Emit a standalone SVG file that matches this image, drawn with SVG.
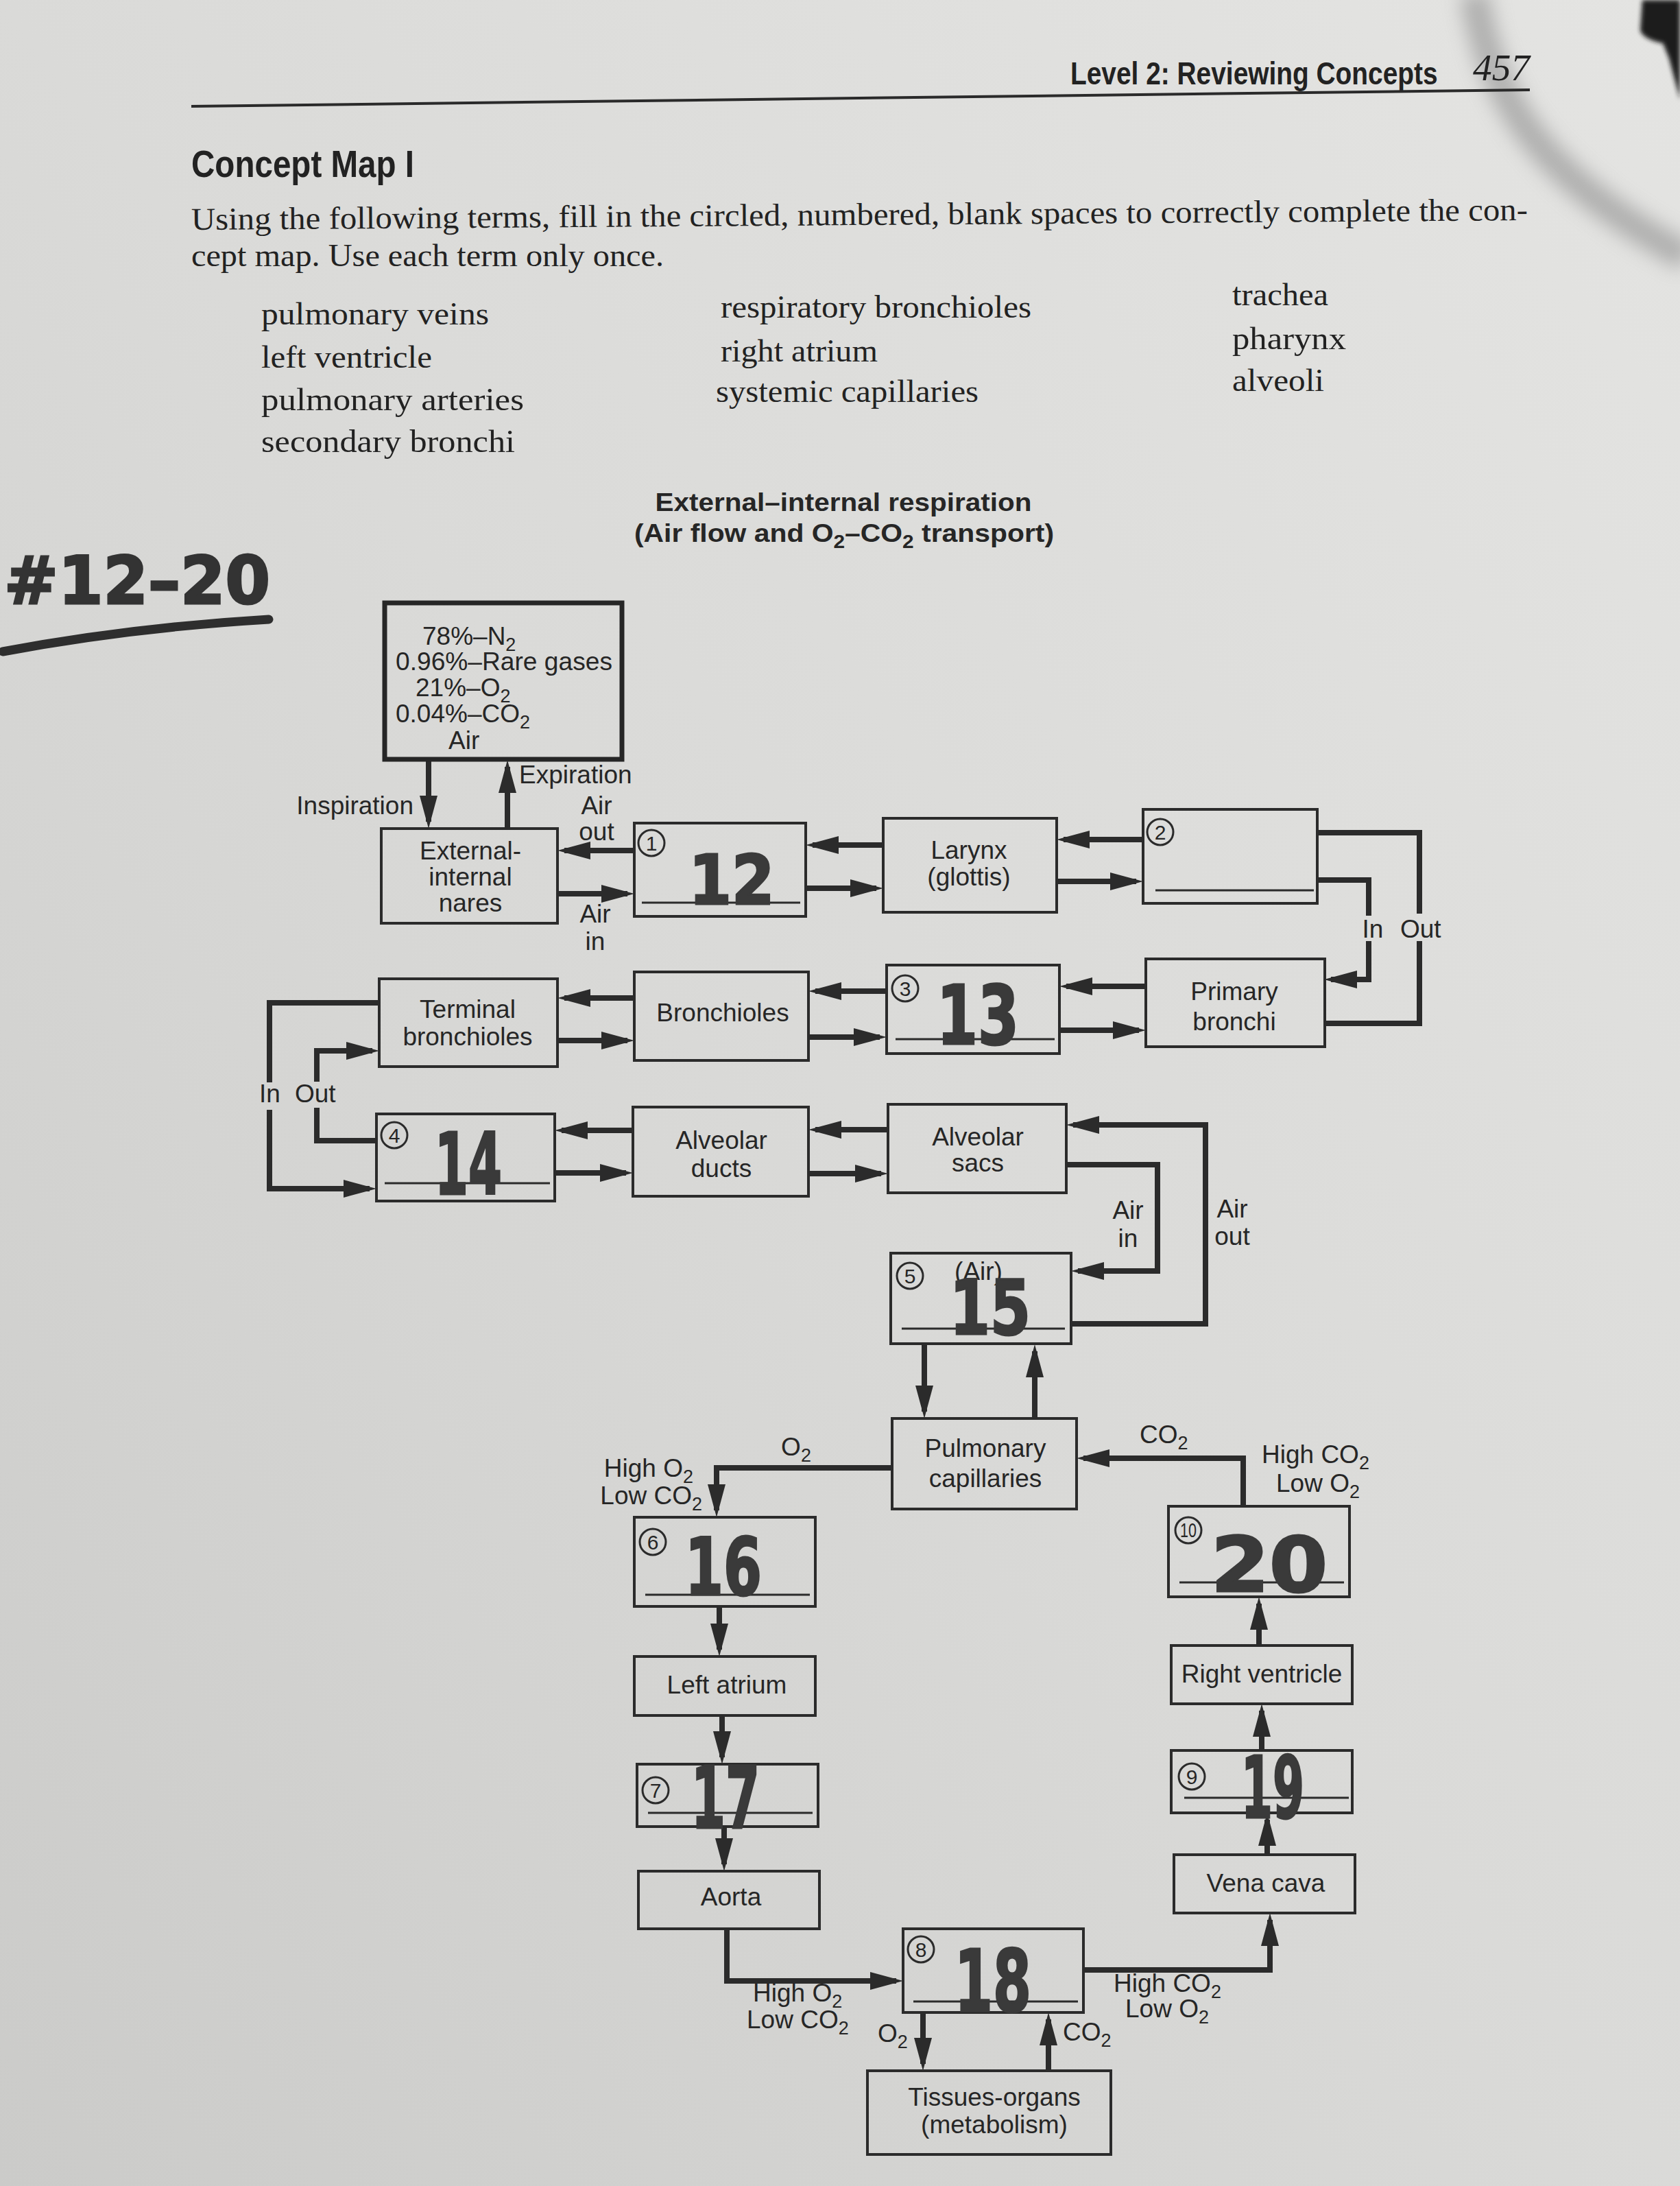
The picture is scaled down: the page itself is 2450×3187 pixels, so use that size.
<svg xmlns="http://www.w3.org/2000/svg" width="2450" height="3187" viewBox="0 0 2450 3187">
<defs>
<linearGradient id="bg" x1="1" y1="0" x2="0" y2="1">
<stop offset="0" stop-color="#e4e4e2"/>
<stop offset="0.5" stop-color="#dadad8"/>
<stop offset="1" stop-color="#cbcbc9"/>
</linearGradient>
<filter id="blur" x="-50%" y="-50%" width="200%" height="200%"><feGaussianBlur stdDeviation="14"/></filter>
<filter id="blur2" x="-20%" y="-20%" width="140%" height="140%"><feGaussianBlur stdDeviation="3"/></filter>
<marker id="ah" viewBox="0 0 48 26" markerWidth="48" markerHeight="26" refX="38" refY="13" orient="auto" markerUnits="userSpaceOnUse">
<path d="M0,0 L48,13 L0,26 Z" fill="#2b2b2b"/>
</marker>
<style>
.box{fill:none;stroke:#2b2b2b;stroke-width:4}
.t{font-family:"Liberation Sans",Arial,sans-serif;font-size:37px;fill:#262626;text-anchor:middle}
.l{font-family:"Liberation Sans",Arial,sans-serif;font-size:37px;fill:#262626}
.le{font-family:"Liberation Sans",Arial,sans-serif;font-size:37px;fill:#262626;text-anchor:end}
.ar{fill:none;stroke:#2b2b2b;stroke-width:8;marker-end:url(#ah)}
.ln{fill:none;stroke:#2b2b2b;stroke-width:8}
.ul{stroke:#2b2b2b;stroke-width:3}
.cn{fill:none;stroke:#2b2b2b;stroke-width:3}
.cd{font-family:"Liberation Sans",Arial,sans-serif;font-size:30px;fill:#262626;text-anchor:middle}
.hw{font-family:"DejaVu Sans",sans-serif;font-weight:bold;fill:#3a3a3a;stroke:#3a3a3a;stroke-width:3;text-anchor:middle}
.serif{font-family:"Liberation Serif","Times New Roman",serif;font-size:46px;fill:#222}
</style>
</defs>

<rect width="2450" height="3187" fill="url(#bg)"/>
<path d="M2150,-10 C2175,150 2250,260 2460,375" fill="none" stroke="#8e8e8e" stroke-width="42" opacity="0.6" filter="url(#blur)"/>
<path d="M2395,0 L2392,45 Q2398,58 2425,63 L2434,85 L2450,145 L2450,0 Z" fill="#1c1c1c" filter="url(#blur2)"/>

<g id="page-header">
<text transform="translate(1561 123) scale(0.845 1)" x="0" y="0" font-family="Liberation Sans,Arial,sans-serif" font-weight="bold" font-size="46" fill="#222">Level 2: Reviewing Concepts</text>
<text x="2148" y="117" font-family="Liberation Serif,serif" font-style="italic" font-size="54" fill="#222" textLength="83" lengthAdjust="spacingAndGlyphs">457</text>
<line x1="279" y1="155" x2="2231" y2="131" stroke="#2a2a2a" stroke-width="4"/>
<text x="279" y="258" font-family="Liberation Sans,Arial,sans-serif" font-weight="bold" font-size="56" fill="#222" textLength="325" lengthAdjust="spacingAndGlyphs">Concept Map I</text>
<text class="serif" x="279" y="335" transform="rotate(-0.41 279 335)" textLength="1949" lengthAdjust="spacingAndGlyphs">Using the following terms, fill in the circled, numbered, blank spaces to correctly complete the con-</text>
<text class="serif" x="279" y="388" textLength="689" lengthAdjust="spacingAndGlyphs">cept map. Use each term only once.</text>
</g>

<g id="terms">
<text class="serif" x="381" y="473" textLength="332" lengthAdjust="spacingAndGlyphs">pulmonary veins</text>
<text class="serif" x="381" y="536" textLength="249" lengthAdjust="spacingAndGlyphs">left ventricle</text>
<text class="serif" x="381" y="598" textLength="383" lengthAdjust="spacingAndGlyphs">pulmonary arteries</text>
<text class="serif" x="381" y="659" textLength="370" lengthAdjust="spacingAndGlyphs">secondary bronchi</text>
<text class="serif" x="1051" y="463" textLength="453" lengthAdjust="spacingAndGlyphs">respiratory bronchioles</text>
<text class="serif" x="1051" y="527" textLength="229" lengthAdjust="spacingAndGlyphs">right atrium</text>
<text class="serif" x="1044" y="586" textLength="383" lengthAdjust="spacingAndGlyphs">systemic capillaries</text>
<text class="serif" x="1797" y="445" textLength="140" lengthAdjust="spacingAndGlyphs">trachea</text>
<text class="serif" x="1797" y="509" textLength="166" lengthAdjust="spacingAndGlyphs">pharynx</text>
<text class="serif" x="1797" y="570" textLength="134" lengthAdjust="spacingAndGlyphs">alveoli</text>
</g>

<g id="handwritten-range">
<text x="6" y="880" font-family="DejaVu Sans,sans-serif" font-weight="bold" font-size="96" fill="#333" stroke="#333" stroke-width="3" textLength="388" lengthAdjust="spacingAndGlyphs">#12–20</text>
<path d="M4,950 Q190,915 392,903" fill="none" stroke="#2e2e2e" stroke-width="13" stroke-linecap="round"/>
</g>

<g id="title">
<text class="t" x="1230" y="745" font-weight="bold" font-size="38" textLength="549" lengthAdjust="spacingAndGlyphs">External–internal respiration</text>
<text class="t" x="1231" y="790" font-weight="bold" font-size="38" textLength="612" lengthAdjust="spacingAndGlyphs">(Air flow and O<tspan dy="9" font-size="27">2</tspan><tspan dy="-9">–CO</tspan><tspan dy="9" font-size="27">2</tspan><tspan dy="-9"> transport)</tspan></text>
</g>

<g id="connectors">
<path class="ar" d="M625,1108 V1198"/>
<path class="ar" d="M740,1208 V1118"/>
<path class="ar" d="M925,1240 H823"/>
<path class="ar" d="M813,1303 H915"/>
<path class="ar" d="M1288,1232 H1185"/>
<path class="ar" d="M1175,1295 H1278"/>
<path class="ar" d="M1667,1224 H1551"/>
<path class="ar" d="M1541,1285 H1657"/>
<path class="ln" d="M1921,1214 H2070 V1332"/>
<path class="ln" d="M2070,1372 V1492 H1931"/>
<path class="ln" d="M1921,1283 H1996 V1335"/>
<path class="ar" d="M1996,1372 V1428 H1941"/>
<path class="ar" d="M1671,1438 H1555"/>
<path class="ar" d="M1545,1502 H1661"/>
<path class="ar" d="M1293,1445 H1189"/>
<path class="ar" d="M1179,1512 H1283"/>
<path class="ar" d="M925,1455 H823"/>
<path class="ar" d="M813,1517 H915"/>
<path class="ln" d="M553,1462 H393 V1578"/>
<path class="ar" d="M393,1618 V1733 H539"/>
<path class="ln" d="M549,1663 H462 V1615"/>
<path class="ar" d="M462,1577 V1532 H543"/>
<path class="ar" d="M1295,1647 H1189"/>
<path class="ar" d="M1179,1711 H1285"/>
<path class="ar" d="M923,1648 H819"/>
<path class="ar" d="M809,1710 H913"/>
<path class="ar" d="M1555,1698 H1688 V1853 H1572"/>
<path class="ar" d="M1562,1930 H1758 V1640 H1565"/>
<path class="ar" d="M1348,1960 V2058"/>
<path class="ar" d="M1509,2068 V1970"/>
<path class="ar" d="M1301,2140 H1045 V2202"/>
<path class="ar" d="M1813,2196 V2126 H1580"/>
<path class="ar" d="M1049,2342 V2405"/>
<path class="ar" d="M1053,2501 V2562"/>
<path class="ar" d="M1056,2663 V2718"/>
<path class="ar" d="M1060,2812 V2888 H1307"/>
<path class="ar" d="M1580,2872 H1852 V2799"/>
<path class="ar" d="M1848,2704 V2653"/>
<path class="ar" d="M1840,2552 V2494"/>
<path class="ar" d="M1836,2399 V2338"/>
<path class="ar" d="M1346,2934 V3009"/>
<path class="ar" d="M1529,3019 V2944"/>
</g>

<g id="connector-labels">
<text class="le" x="603" y="1187">Inspiration</text>
<text class="l" x="757" y="1142">Expiration</text>
<text class="t" x="870" y="1187">Air</text>
<text class="t" x="870" y="1225">out</text>
<text class="t" x="868" y="1345">Air</text>
<text class="t" x="868" y="1385">in</text>
<text class="t" x="2002" y="1367">In</text>
<text class="l" x="2042" y="1367">Out</text>
<text class="l" x="378" y="1607">In</text>
<text class="l" x="430" y="1607">Out</text>
<text class="t" x="1645" y="1777">Air</text>
<text class="t" x="1645" y="1818">in</text>
<text class="t" x="1797" y="1775">Air</text>
<text class="t" x="1797" y="1815">out</text>
<text class="t" x="1161" y="2122">O<tspan dy="9" font-size="27">2</tspan></text>
<text class="le" x="1011" y="2153">High O<tspan dy="9" font-size="27">2</tspan></text>
<text class="le" x="1024" y="2193">Low CO<tspan dy="9" font-size="27">2</tspan></text>
<text class="l" x="1662" y="2104">CO<tspan dy="9" font-size="27">2</tspan></text>
<text class="l" x="1840" y="2133">High CO<tspan dy="9" font-size="27">2</tspan></text>
<text class="l" x="1861" y="2175">Low O<tspan dy="9" font-size="27">2</tspan></text>
<text class="l" x="1098" y="2918">High O<tspan dy="9" font-size="27">2</tspan></text>
<text class="l" x="1089" y="2957">Low CO<tspan dy="9" font-size="27">2</tspan></text>
<text class="l" x="1624" y="2904">High CO<tspan dy="9" font-size="27">2</tspan></text>
<text class="l" x="1641" y="2941">Low O<tspan dy="9" font-size="27">2</tspan></text>
<text class="l" x="1280" y="2977">O<tspan dy="9" font-size="27">2</tspan></text>
<text class="l" x="1550" y="2975">CO<tspan dy="9" font-size="27">2</tspan></text>
</g>

<g id="node-air">
<rect x="561" y="879" width="346" height="228" fill="none" stroke="#262626" stroke-width="7"/>
<text class="l" x="616" y="940">78%–N<tspan dy="9" font-size="27">2</tspan></text>
<text class="l" x="577" y="977" textLength="316" lengthAdjust="spacingAndGlyphs">0.96%–Rare gases</text>
<text class="l" x="606" y="1015">21%–O<tspan dy="9" font-size="27">2</tspan></text>
<text class="l" x="577" y="1053">0.04%–CO<tspan dy="9" font-size="27">2</tspan></text>
<text class="l" x="654" y="1092">Air</text>
</g>

<g id="node-nares">
<rect class="box" x="556" y="1208" width="257" height="138"/>
<text class="t" x="686" y="1253">External-</text>
<text class="t" x="686" y="1291">internal</text>
<text class="t" x="686" y="1329">nares</text>
</g>

<g id="node-1">
<rect class="box" x="925" y="1200" width="250" height="136"/>
<circle class="cn" cx="950" cy="1229" r="19"/><text class="cd" x="950" y="1240">1</text>
<line class="ul" x1="936" y1="1316" x2="1167" y2="1316"/>
<text class="hw" x="1067" y="1318" font-size="100" textLength="125" lengthAdjust="spacingAndGlyphs">12</text>
</g>

<g id="node-larynx">
<rect class="box" x="1288" y="1193" width="253" height="137"/>
<text class="t" x="1413" y="1252">Larynx</text>
<text class="t" x="1413" y="1291">(glottis)</text>
</g>

<g id="node-2">
<rect class="box" x="1667" y="1180" width="254" height="137"/>
<circle class="cn" cx="1692" cy="1213" r="19"/><text class="cd" x="1692" y="1224">2</text>
<line class="ul" x1="1685" y1="1298" x2="1916" y2="1298"/>
</g>

<g id="node-primary-bronchi">
<rect class="box" x="1671" y="1398" width="261" height="128"/>
<text class="t" x="1800" y="1458">Primary</text>
<text class="t" x="1800" y="1502">bronchi</text>
</g>

<g id="node-3">
<rect class="box" x="1293" y="1407" width="252" height="129"/>
<circle class="cn" cx="1320" cy="1441" r="19"/><text class="cd" x="1320" y="1452">3</text>
<line class="ul" x1="1306" y1="1515" x2="1538" y2="1515"/>
<text class="hw" x="1426" y="1522" font-size="120" textLength="120" lengthAdjust="spacingAndGlyphs">13</text>
</g>

<g id="node-bronchioles">
<rect class="box" x="925" y="1417" width="254" height="129"/>
<text class="t" x="1054" y="1489">Bronchioles</text>
</g>

<g id="node-terminal-bronchioles">
<rect class="box" x="553" y="1427" width="260" height="128"/>
<text class="t" x="682" y="1484">Terminal</text>
<text class="t" x="682" y="1524">bronchioles</text>
</g>

<g id="node-4">
<rect class="box" x="549" y="1624" width="260" height="127"/>
<circle class="cn" cx="575" cy="1655" r="19"/><text class="cd" x="575" y="1666">4</text>
<line class="ul" x1="561" y1="1725" x2="802" y2="1725"/>
<text class="hw" x="683" y="1741" font-size="125" textLength="98" lengthAdjust="spacingAndGlyphs">14</text>
</g>

<g id="node-alveolar-ducts">
<rect class="box" x="923" y="1614" width="256" height="130"/>
<text class="t" x="1052" y="1675">Alveolar</text>
<text class="t" x="1052" y="1716">ducts</text>
</g>

<g id="node-alveolar-sacs">
<rect class="box" x="1295" y="1610" width="260" height="129"/>
<text class="t" x="1426" y="1670">Alveolar</text>
<text class="t" x="1426" y="1708">sacs</text>
</g>

<g id="node-5">
<rect class="box" x="1299" y="1827" width="263" height="132"/>
<circle class="cn" cx="1327" cy="1860" r="19"/><text class="cd" x="1327" y="1871">5</text>
<text class="t" x="1427" y="1866" font-size="34">(Air)</text>
<line class="ul" x1="1315" y1="1937" x2="1553" y2="1937"/>
<text class="hw" x="1444" y="1945" font-size="110" textLength="118" lengthAdjust="spacingAndGlyphs">15</text>
</g>

<g id="node-pulmonary-capillaries">
<rect class="box" x="1301" y="2068" width="269" height="132"/>
<text class="t" x="1437" y="2124">Pulmonary</text>
<text class="t" x="1437" y="2168">capillaries</text>
</g>

<g id="node-6">
<rect class="box" x="925" y="2212" width="264" height="130"/>
<circle class="cn" cx="952" cy="2248" r="19"/><text class="cd" x="952" y="2259">6</text>
<line class="ul" x1="941" y1="2325" x2="1181" y2="2325"/>
<text class="hw" x="1055" y="2325" font-size="115" textLength="112" lengthAdjust="spacingAndGlyphs">16</text>
</g>

<g id="node-left-atrium">
<rect class="box" x="925" y="2415" width="264" height="86"/>
<text class="t" x="1060" y="2469">Left atrium</text>
</g>

<g id="node-7">
<rect class="box" x="929" y="2572" width="264" height="91"/>
<circle class="cn" cx="956" cy="2610" r="19"/><text class="cd" x="956" y="2621">7</text>
<line class="ul" x1="945" y1="2643" x2="1185" y2="2643"/>
<text class="hw" x="1058" y="2665" font-size="125" textLength="100" lengthAdjust="spacingAndGlyphs">17</text>
</g>

<g id="node-aorta">
<rect class="box" x="931" y="2728" width="264" height="84"/>
<text class="t" x="1066" y="2778">Aorta</text>
</g>

<g id="node-8">
<rect class="box" x="1317" y="2812" width="263" height="122"/>
<circle class="cn" cx="1343" cy="2842" r="19"/><text class="cd" x="1343" y="2853">8</text>
<line class="ul" x1="1332" y1="2918" x2="1572" y2="2918"/>
<text class="hw" x="1448" y="2932" font-size="125" textLength="112" lengthAdjust="spacingAndGlyphs">18</text>
</g>

<g id="node-tissues-organs">
<rect class="box" x="1265" y="3019" width="355" height="122"/>
<text class="t" x="1450" y="3070">Tissues-organs</text>
<text class="t" x="1450" y="3110">(metabolism)</text>
</g>

<g id="node-10">
<rect class="box" x="1704" y="2196" width="264" height="132"/>
<circle class="cn" cx="1733" cy="2231" r="19"/><text class="cd" x="1733" y="2241" font-size="26" textLength="24" lengthAdjust="spacingAndGlyphs">10</text>
<line class="ul" x1="1720" y1="2307" x2="1960" y2="2307"/>
<text class="hw" x="1851" y="2320" font-size="110" textLength="170" lengthAdjust="spacingAndGlyphs">20</text>
</g>

<g id="node-right-ventricle">
<rect class="box" x="1708" y="2399" width="264" height="85"/>
<text class="t" x="1840" y="2453">Right ventricle</text>
</g>

<g id="node-9">
<rect class="box" x="1708" y="2552" width="264" height="91"/>
<circle class="cn" cx="1738" cy="2590" r="19"/><text class="cd" x="1738" y="2601">9</text>
<line class="ul" x1="1727" y1="2621" x2="1967" y2="2621"/>
<text class="hw" x="1856" y="2650" font-size="125" textLength="92" lengthAdjust="spacingAndGlyphs">19</text>
</g>

<g id="node-vena-cava">
<rect class="box" x="1712" y="2704" width="264" height="85"/>
<text class="t" x="1846" y="2758">Vena cava</text>
</g>
</svg>
